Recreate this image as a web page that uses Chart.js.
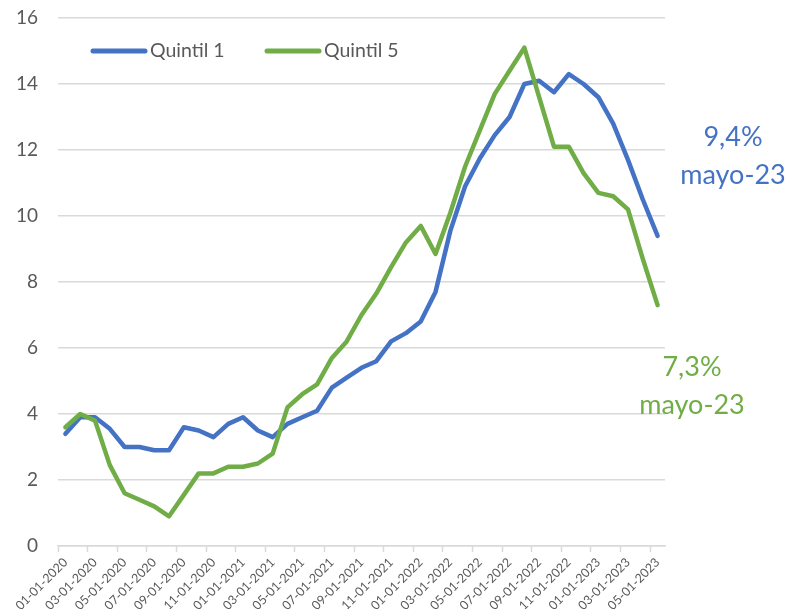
<!DOCTYPE html>
<html>
<head>
<meta charset="utf-8">
<script src="https://cdn.jsdelivr.net/npm/chart.js@4/dist/chart.umd.min.js"></script>
<style>
  html, body { margin: 0; padding: 0; background: #fff; }
  #wrap { width: 793px; height: 609px; }
</style>
</head>
<body>
<div id="wrap"><canvas id="quintilChart" width="793" height="609"></canvas></div>
<script>
// monthly categories, jan 2020 - may 2023
const months = [
  '01-01-2020', '02-01-2020', '03-01-2020', '04-01-2020', '05-01-2020', '06-01-2020',
  '07-01-2020', '08-01-2020', '09-01-2020', '10-01-2020', '11-01-2020', '12-01-2020',
  '01-01-2021', '02-01-2021', '03-01-2021', '04-01-2021', '05-01-2021', '06-01-2021',
  '07-01-2021', '08-01-2021', '09-01-2021', '10-01-2021', '11-01-2021', '12-01-2021',
  '01-01-2022', '02-01-2022', '03-01-2022', '04-01-2022', '05-01-2022', '06-01-2022',
  '07-01-2022', '08-01-2022', '09-01-2022', '10-01-2022', '11-01-2022', '12-01-2022',
  '01-01-2023', '02-01-2023', '03-01-2023', '04-01-2023', '05-01-2023'
];

const quintil1 = [
  3.4, 3.9, 3.9, 3.55, 3.0, 3.0, 2.9, 2.9, 3.6, 3.5, 3.3, 3.7,
  3.9, 3.5, 3.3, 3.7, 3.9, 4.1, 4.8, 5.1, 5.4, 5.6, 6.2, 6.45,
  6.8, 7.7, 9.55, 10.9, 11.75, 12.45, 13.0, 14.0, 14.1, 13.75, 14.3, 14.0,
  13.6, 12.8, 11.7, 10.5, 9.4
];

const quintil5 = [
  3.6, 4.0, 3.8, 2.45, 1.6, 1.4, 1.2, 0.9, 1.55, 2.2, 2.2, 2.4,
  2.4, 2.5, 2.8, 4.2, 4.6, 4.9, 5.7, 6.2, 7.0, 7.65, 8.45, 9.2,
  9.7, 8.85, 10.1, 11.5, 12.6, 13.7, 14.4, 15.1, 13.6, 12.1, 12.1, 11.3,
  10.7, 10.6, 10.2, 8.7, 7.3
];

const yTicks = [0, 2, 4, 6, 8, 10, 12, 14, 16];

const BLUE = '#4472C4';
const GREEN = '#70AD47';
const GREY_TXT = '#595959';
const GRID = '#d9d9d9';
const FONT = 'Lato, "Open Sans", sans-serif';

// legend inside plot + end labels
const overlayText = {
  id: 'overlayText',
  afterDraw(chart) {
    const c = chart.ctx;
    c.save();
    c.lineCap = 'round';
    c.lineWidth = 5;
    c.font = '19.5px ' + FONT;
    c.textBaseline = 'middle';
    c.fillStyle = GREY_TXT;

    c.strokeStyle = BLUE;
    c.beginPath(); c.moveTo(93, 51); c.lineTo(145, 51); c.stroke();
    c.fillText(chart.data.datasets[0].label, 150, 51);

    c.strokeStyle = GREEN;
    c.beginPath(); c.moveTo(267, 51); c.lineTo(319, 51); c.stroke();
    c.fillText(chart.data.datasets[1].label, 324, 51);

    c.font = '27px ' + FONT;
    c.textAlign = 'center';
    c.fillStyle = BLUE;
    c.fillText('9,4%', 733, 137);
    c.fillText('mayo-23', 733, 175);
    c.fillStyle = GREEN;
    c.fillText('7,3%', 692, 367);
    c.fillText('mayo-23', 692, 405);
    c.restore();
  }
};

new Chart(document.getElementById('quintilChart'), {
  type: 'line',
  data: {
    labels: months,
    datasets: [{
      label: 'Quintil 1',
      data: quintil1,
      borderColor: BLUE,
      borderWidth: 4.5,
      order: 1
    }, {
      label: 'Quintil 5',
      data: quintil5,
      borderColor: GREEN,
      borderWidth: 4.5,
      order: 0
    }]
  },
  options: {
    responsive: false,
    animation: false,
    devicePixelRatio: 1,
    layout: { padding: { left: 0, right: 128, top: 18, bottom: 0 } },
    elements: {
      point: { radius: 0 },
      line: { tension: 0, borderJoinStyle: 'round', borderCapStyle: 'round' }
    },
    plugins: {
      legend: { display: false },
      tooltip: { enabled: false }
    },
    scales: {
      x: {
        offset: true,
        afterFit: (scale) => { scale.height = 63; },
        border: { display: true, color: GRID, width: 1.5 },
        grid: {
          offset: true,
          drawOnChartArea: false,
          drawTicks: true,
          tickLength: 6,
          tickWidth: 1.5,
          tickColor: (ctx) => (ctx.index !== undefined && ctx.index % 2 === 0) ? GRID : 'rgba(0,0,0,0)'
        },
        ticks: {
          autoSkip: false,
          minRotation: 45,
          maxRotation: 45,
          padding: 3,
          color: GREY_TXT,
          font: { family: FONT, size: 12.5 },
          callback: function (val, i) { return i % 2 === 0 ? months[i] : ''; }
        }
      },
      y: {
        min: 0,
        max: 16,
        afterFit: (scale) => {
          scale.width = 58;
          // tick padding would otherwise push the plot top down
          scale.paddingTop = 0;
          scale.paddingBottom = 0;
        },
        afterBuildTicks: (scale) => { scale.ticks = yTicks.map(v => ({ value: v })); },
        border: { display: false },
        grid: { color: GRID, lineWidth: 1.5, drawTicks: false },
        ticks: {
          padding: 20,
          color: GREY_TXT,
          font: { family: FONT, size: 19 }
        }
      }
    }
  },
  plugins: [overlayText]
});
</script>
</body>
</html>
